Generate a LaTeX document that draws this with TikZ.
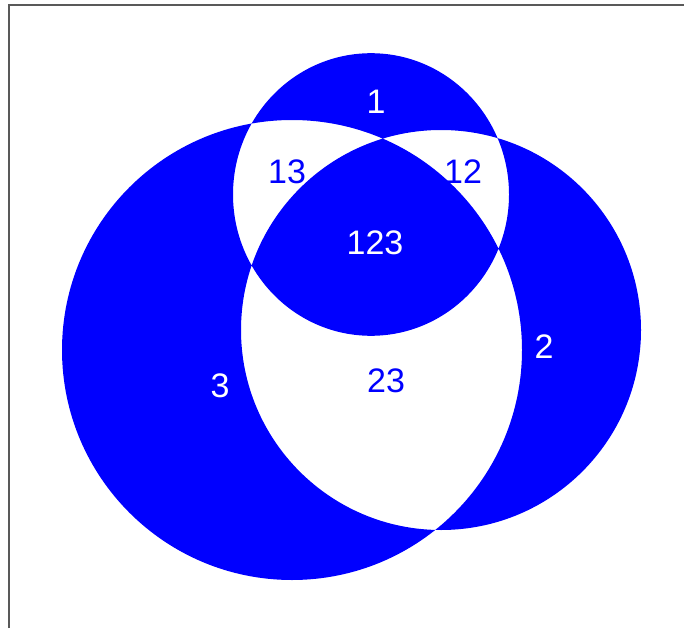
\documentclass[tikz,border=0pt]{standalone}
\usepackage{fontspec}
\setmainfont{Liberation Sans}
\usepackage{tikz}
\usetikzlibrary{positioning}

\begin{document}
\begin{tikzpicture}[x=1pt, y=-1pt, font=\fontsize{34}{40}\selectfont,
    lbl/.style={inner sep=0pt, text=white},
    lblin/.style={inner sep=0pt, text=blue}]
          \useasboundingbox (0,0) rectangle (684,628);
          \coordinate (c1) at (371,194.5);
          \coordinate (c2) at (441,330);
          \coordinate (c3) at (292,350);
          % frame
          \draw[black!65, line width=2pt] (9,628) -- (9,5) -- (684,5);
          % odd regions blue, even regions white
          \fill[blue, even odd rule] (c1) ellipse (138pt and 141.3pt) (c2) circle (200pt) (c3) circle (230pt);
          \node[lbl] (l1) at (376,102) {1};
          \node[lblin] (l13) at (287,172) {13};
          \node[lblin] (l12) at (463,172) {12};
          \node[lbl] (l123) at (375,243) {123};
          \node[lbl] (l2) at (544,347) {2};
          \node[lbl] (l3) at (220,386) {3};
          \node[lblin] (l23) at (386,381) {23};
        \end{tikzpicture}
\end{document}
